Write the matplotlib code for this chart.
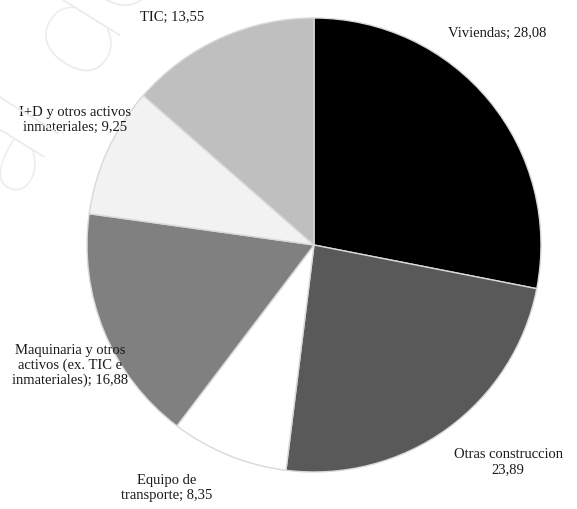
import matplotlib.pyplot as plt

labels = [
    "Viviendas; 28,08",
    "Otras construccion\n23,89",
    "Equipo de\ntransporte; 8,35",
    "Maquinaria y otros\nactivos (ex. TIC e\ninmateriales); 16,88",
    "I+D y otros activos\ninmateriales; 9,25",
    "TIC; 13,55",
]
values = [28.08, 23.89, 8.35, 16.88, 9.25, 13.55]
colors = ["#000000", "#595959", "#ffffff", "#808080", "#f2f2f2", "#bfbfbf"]
# label centres in pie-radius units
label_pos = [
    (0.806, 0.93),
    (0.855, -0.956),
    (-0.648, -1.07),
    (-1.075, -0.529),
    (-1.053, 0.551),
    (-0.626, 1.004),
]

W, H = 577, 509
cx, cy, r = 314, 245, 227

fig = plt.figure(figsize=(W / 100, H / 100), dpi=100)
fig.patch.set_facecolor("white")

# faint watermark in the background
fig.text(60 / W, 1 - 62 / H, "al de", rotation=58, fontsize=100, color="#eaeaea",
         family="Lato", fontweight="light", ha="center", va="center", zorder=0)

ax = fig.add_axes([(cx - r) / W, (H - cy - r) / H, 2 * r / W, 2 * r / H])
ax.axis("off")
ax.patch.set_alpha(0)

ax.pie(values, colors=colors, startangle=90, counterclock=False, radius=1.0,
       wedgeprops=dict(edgecolor="#d9d9d9", linewidth=1.0))
ax.set_xlim(-1, 1)
ax.set_ylim(-1, 1)

for lab, (x, y) in zip(labels, label_pos):
    ax.text(x, y, lab, ha="center", va="center", fontsize=10.5, color="#1a1a1a",
            family="Liberation Serif", linespacing=1.15, clip_on=False)

fig.savefig("out.png", dpi=100)
